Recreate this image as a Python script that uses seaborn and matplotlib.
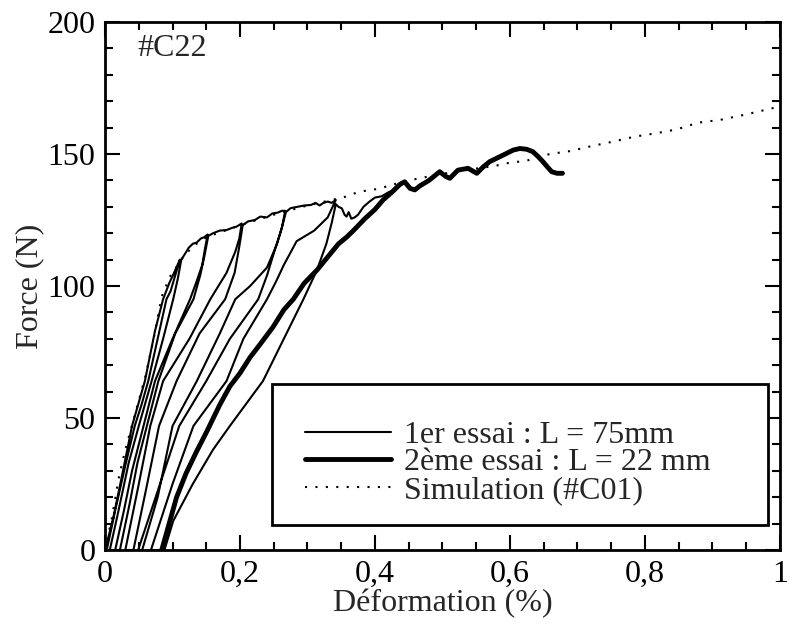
import numpy as np
import pandas as pd
import matplotlib
matplotlib.use("Agg")
import matplotlib.pyplot as plt
import seaborn as sns
from matplotlib.patches import Rectangle
from matplotlib.ticker import MultipleLocator, FuncFormatter

# ---- data (x = deformation %, y = force N) ----

# 1er essai (L = 75mm) : loading with 5 unload / reload cycles, in time order
e1_charge = [(0.000, 0), (0.012, 12), (0.025, 28), (0.040, 47), (0.059, 64), (0.074, 83),
             (0.086, 95), (0.095, 101), (0.104, 106), (0.111, 110)]
e1_dech0 = [(0.104, 104), (0.097, 98), (0.091, 95), (0.078, 80), (0.064, 64), (0.054, 55),
            (0.044, 47), (0.030, 32), (0.015, 15), (0.0025, 0)]
e1_rech0 = [(0.007, 0), (0.020, 15), (0.035, 33), (0.050, 47), (0.069, 64), (0.086, 80),
            (0.101, 95), (0.108, 103), (0.113, 110)]
e1_env1 = [(0.118, 112), (0.124, 114.5), (0.130, 116), (0.136, 116.5), (0.142, 118),
           (0.147, 118.5), (0.152, 119.5)]
e1_dech1 = [(0.148, 114), (0.144, 108), (0.136, 102), (0.126, 95), (0.100, 80), (0.074, 64),
            (0.057, 47), (0.040, 30), (0.028, 15), (0.015, 0)]
e1_rech1 = [(0.022, 0), (0.036, 17), (0.048, 33), (0.062, 47), (0.079, 64), (0.104, 82),
            (0.131, 95), (0.141, 104), (0.147, 111), (0.153, 119)]
e1_env2 = [(0.160, 120), (0.170, 121), (0.180, 121.2), (0.188, 122), (0.195, 122.5), (0.2025, 123.7)]
e1_dech2 = [(0.199, 118), (0.193, 113), (0.180, 105), (0.156, 95), (0.125, 80), (0.086, 64),
            (0.067, 47), (0.050, 25), (0.030, 0)]
e1_rech2 = [(0.042, 0), (0.060, 22), (0.080, 47), (0.106, 64), (0.140, 82), (0.178, 95),
            (0.192, 105), (0.199, 115), (0.204, 123)]
e1_env3 = [(0.212, 124.5), (0.222, 125), (0.230, 126.3), (0.240, 126), (0.248, 127.5),
           (0.256, 127.8), (0.262, 128.5), (0.267, 128.5)]
e1_dech3 = [(0.262, 122), (0.252, 114), (0.240, 104), (0.227, 95), (0.185, 80), (0.150, 64),
            (0.110, 47), (0.075, 20), (0.049, 0)]
e1_rech3 = [(0.055, 0), (0.078, 20), (0.100, 47), (0.136, 64), (0.170, 82), (0.193, 95),
            (0.215, 100), (0.240, 107), (0.255, 116), (0.263, 123), (0.268, 128)]
e1_env4 = [(0.275, 129.5), (0.285, 130), (0.295, 130.5), (0.305, 130.7), (0.312, 131.5),
           (0.318, 130.5), (0.323, 131.4), (0.330, 132), (0.336, 131.5), (0.342, 132.6)]
e1_dech4 = [(0.330, 126), (0.310, 121), (0.284, 117), (0.265, 108), (0.254, 102), (0.240, 95),
            (0.205, 80), (0.180, 64), (0.131, 47), (0.100, 25), (0.068, 0)]
e1_rech4 = [(0.088, 0), (0.101, 11), (0.130, 25), (0.160, 38), (0.185, 47), (0.234, 64),
            (0.265, 80), (0.294, 95), (0.314, 106), (0.328, 116), (0.336, 124), (0.342, 131)]
e1_fin = [(0.346, 130), (0.351, 129.4), (0.355, 127), (0.358, 126.3), (0.361, 128),
          (0.365, 125.5), (0.370, 126), (0.375, 127), (0.383, 130), (0.392, 132),
          (0.400, 133.5), (0.410, 134), (0.420, 135.5), (0.430, 136.5), (0.440, 138.5)]

# 2eme essai (L = 22 mm)
e2_x = [0.084, 0.095, 0.106, 0.120, 0.135, 0.151, 0.170, 0.185, 0.200, 0.215, 0.230, 0.249,
        0.265, 0.279, 0.295, 0.314, 0.330, 0.346, 0.358, 0.370, 0.385, 0.400, 0.412, 0.425,
        0.437, 0.444, 0.452, 0.459, 0.467, 0.480, 0.496, 0.505, 0.511, 0.523, 0.538, 0.551,
        0.560, 0.570, 0.590, 0.605, 0.615, 0.625, 0.634, 0.642, 0.649, 0.656, 0.662, 0.670, 0.678]
e2_f = [0, 10, 20, 29, 37, 45, 55, 62, 67, 73, 78, 84.5,
        91, 95, 101, 106, 111, 116, 118.5, 121.5, 125.5, 129, 132.6, 135.5,
        138.5, 139.5, 137, 136.4, 138, 140, 143.3, 141.5, 140.8, 143.9, 144.6, 142.7,
        145, 147.1, 149.6, 151.5, 152.1, 151.8, 150.9, 149, 147.1, 145, 143.3, 142.7, 142.7]

# Simulation (#C01)
sim_x = [0.0, 0.01, 0.02, 0.03, 0.045, 0.06, 0.072, 0.084, 0.096, 0.116, 0.13, 0.15, 0.2,
         0.25, 0.3, 0.356, 0.373, 0.388, 0.405, 0.421, 0.45, 0.5, 0.55, 0.578, 0.595, 0.625,
         0.659, 0.689, 0.721, 0.753, 0.785, 0.815, 0.847, 0.879, 0.911, 0.95, 1.0]
sim_f = [0, 12, 27, 38, 52, 66, 80, 96, 103.5, 111, 115, 118.5, 123,
         127, 130.5, 133.8, 135.4, 136.2, 136.8, 138, 140, 142.5, 144.5, 145.5, 146.5, 147.5,
         150, 151.1, 153, 154.7, 156.6, 157.8, 159.3, 161.9, 162.9, 165, 168]

labels = ["1er essai : L = 75mm", "2ème essai : L = 22 mm", "Simulation (#C01)"]

# ---- build frames ----
segments = [e1_charge, e1_dech0, e1_rech0, e1_env1, e1_dech1, e1_rech1, e1_env2, e1_dech2,
            e1_rech2, e1_env3, e1_dech3, e1_rech3, e1_env4, e1_dech4, e1_rech4, e1_fin]
e1 = np.array([p for seg in segments for p in seg])
df1 = pd.DataFrame({"x": e1[:, 0], "F": e1[:, 1]})
df2 = pd.DataFrame({"x": e2_x, "F": e2_f})
df3 = pd.DataFrame({"x": sim_x, "F": sim_f})

# ---- plot ----
sns.set_theme(style="ticks")
plt.rcParams["font.family"] = ["Liberation Serif", "DejaVu Serif"]

FS = 23

fig = plt.figure(figsize=(7.9, 6.3), dpi=100)
ax = fig.add_axes([0.133, 0.127, 0.854, 0.838])

sns.lineplot(data=df1, x="x", y="F", sort=False, estimator=None, color="black",
             linewidth=1.5, label=labels[0], ax=ax)
sns.lineplot(data=df2, x="x", y="F", sort=False, estimator=None, color="black",
             linewidth=3.5, label=labels[1], ax=ax)
sns.lineplot(data=df3, x="x", y="F", sort=False, estimator=None, color="black",
             linewidth=1.5, linestyle=(0, (1, 4)), label=labels[2], ax=ax)

ax.set_xlim(0, 1)
ax.set_ylim(0, 200)
ax.xaxis.set_major_locator(MultipleLocator(0.2))
ax.xaxis.set_minor_locator(MultipleLocator(0.05))
ax.yaxis.set_major_locator(MultipleLocator(50))
ax.yaxis.set_minor_locator(MultipleLocator(10))
ax.xaxis.set_major_formatter(FuncFormatter(lambda v, p: f"{v:g}".replace(".", ",")))

ax.tick_params(which="both", direction="in", top=True, right=True, width=1.5,
               labelsize=FS, colors="black")
ax.tick_params(which="major", length=11, pad=7)
ax.tick_params(which="minor", length=6)
for s in ax.spines.values():
    s.set_linewidth(2)
    s.set_color("black")

ax.set_xlabel("Déformation (%)", fontsize=FS, labelpad=0)
ax.set_ylabel("Force (N)", fontsize=FS, labelpad=2)
ax.text(0.048, 190, "#C22", fontsize=FS, va="center", ha="left")

# legend box drawn as its own frame, legend entries placed inside
ax.add_patch(Rectangle((0.247, 0.047), 0.735, 0.267, transform=ax.transAxes,
                       fill=True, facecolor="white", edgecolor="black", linewidth=2, zorder=4))
leg = ax.legend(loc="upper left", bbox_to_anchor=(0.296, 0.245), fontsize=FS,
                frameon=False, handlelength=2.7, labelspacing=-0.06, borderpad=0,
                handletextpad=0.4, borderaxespad=0)
leg.set_zorder(5)

fig.savefig("out.png", dpi=100)
